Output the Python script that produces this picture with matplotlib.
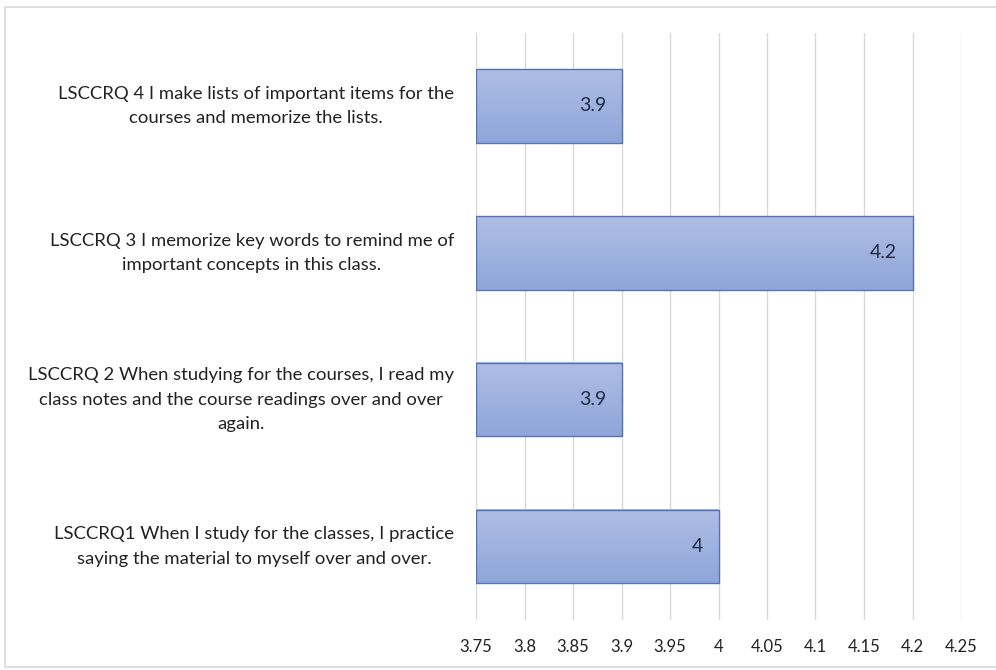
import numpy as np
import matplotlib.pyplot as plt
from matplotlib.patches import Rectangle
from matplotlib.colors import LinearSegmentedColormap
from matplotlib.transforms import blended_transform_factory

# item labels, bottom to top
items = [
    "LSCCRQ1 When I study for the classes, I practice\nsaying the material to myself over and over.",
    "LSCCRQ 2 When studying for the courses, I read my\nclass notes and the course readings over and over\nagain.",
    "LSCCRQ 3 I memorize key words to remind me of\nimportant concepts in this class.",
    "LSCCRQ 4 I make lists of important items for the\ncourses and memorize the lists.",
]
means = [4.0, 3.9, 4.2, 3.9]
value_labels = ["4", "3.9", "4.2", "3.9"]
xticks = [3.75, 3.8, 3.85, 3.9, 3.95, 4.0, 4.05, 4.1, 4.15, 4.2, 4.25]
xtick_labels = ["3.75", "3.8", "3.85", "3.9", "3.95", "4", "4.05", "4.1", "4.15", "4.2", "4.25"]

plt.rcParams['font.family'] = ['Lato', 'DejaVu Sans']

fig = plt.figure(figsize=(9.96, 6.70), dpi=100)
fig.patches.append(Rectangle((5 / 996, 0.005), 1.0, 1 - 7 / 670 - 0.005,
                             transform=fig.transFigure, fill=False,
                             edgecolor="#d9d9d9", linewidth=1.2))

ax = fig.add_axes([476 / 996, 50 / 670, (961 - 476) / 996, (620 - 32.5) / 670])
xmin, xmax = 3.75, 4.25

for x in xticks:
    ax.axvline(x, color="#d9d9d9", linewidth=1.0, zorder=0)

# vertical gradient for the bar fill
grad = np.linspace(0, 1, 100).reshape(-1, 1)
cmap = LinearSegmentedColormap.from_list("barfill", ["#8fa6da", "#afbde5"])

h = 0.5
for i, v in enumerate(means):
    y0, y1 = i - h / 2, i + h / 2
    ax.imshow(grad, extent=(xmin, v, y0, y1), aspect="auto", cmap=cmap,
              origin="lower", zorder=2)
    ax.add_patch(Rectangle((xmin, y0), v - xmin, h, fill=False,
                           edgecolor="#5474b8", linewidth=1.0, zorder=3))
    ax.text(v - 0.016, i, value_labels[i], ha="right", va="center",
            fontsize=14, color="#1f2a44", zorder=4)

ax.set_xlim(xmin, xmax)
ax.set_ylim(-0.5, len(items) - 0.5)

ax.set_xticks(xticks)
ax.set_xticklabels(xtick_labels, fontsize=12, color="#222222")
ax.set_yticks(range(len(items)))
ax.set_yticklabels([])

# category labels: block right-aligned next to the axis, lines centred
trans = blended_transform_factory(fig.transFigure, ax.transData)
for i, lab in enumerate(items):
    ax.text(454 / 996, i, lab, transform=trans, fontsize=13.3,
            ha="right", va="center", multialignment="center",
            color="#222222", linespacing=1.65)

ax.tick_params(axis="both", length=0)
ax.tick_params(axis="x", pad=14)
for s in ax.spines.values():
    s.set_visible(False)

fig.savefig("out.png", dpi=100)
